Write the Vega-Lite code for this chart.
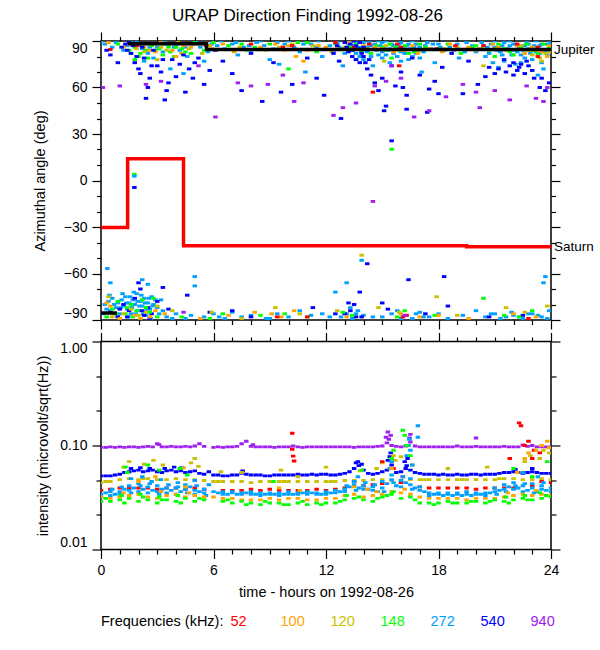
{
  "$schema": "https://vega.github.io/schema/vega-lite/v6.json",
  "description": "URAP direction finding, azimuth and intensity by frequency",
  "padding": {"left": 31, "top": 6, "right": 0, "bottom": 0},
  "title": {"text": "URAP Direction Finding  1992-08-26", "anchor": "middle", "dx": -6, "fontSize": 17, "fontWeight": "normal", "color": "black", "offset": 6},
  "datasets": {
    "az": [
      {"t":0.2,"v":88,"f":"272"},{"t":0.6,"v":86,"f":"272"},{"t":1.2,"v":84,"f":"272"},{"t":1.6,"v":89,"f":"272"},{"t":2.0,"v":87,"f":"272"},{"t":2.2,"v":85,"f":"272"},{"t":2.5,"v":82,"f":"272"},{"t":2.8,"v":79,"f":"272"},{"t":3.0,"v":86,"f":"272"},{"t":3.3,"v":83,"f":"272"},{"t":3.6,"v":88,"f":"272"},{"t":3.9,"v":86,"f":"272"},{"t":4.2,"v":84,"f":"272"},{"t":4.6,"v":80,"f":"272"},{"t":4.9,"v":88,"f":"272"},{"t":5.3,"v":86,"f":"272"},{"t":5.7,"v":83,"f":"272"},{"t":6.2,"v":87,"f":"272"},{"t":6.6,"v":85,"f":"272"},{"t":7.0,"v":88,"f":"272"},{"t":7.3,"v":81,"f":"272"},{"t":7.6,"v":86,"f":"272"},{"t":8.0,"v":84,"f":"272"},{"t":8.3,"v":89,"f":"272"},{"t":8.7,"v":87,"f":"272"},{"t":9.2,"v":85,"f":"272"},{"t":9.5,"v":75,"f":"272"},{"t":9.8,"v":88,"f":"272"},{"t":10.3,"v":86,"f":"272"},{"t":10.6,"v":83,"f":"272"},{"t":10.9,"v":70,"f":"272"},{"t":11.2,"v":88,"f":"272"},{"t":11.5,"v":86,"f":"272"},{"t":11.8,"v":80,"f":"272"},{"t":12.2,"v":87,"f":"272"},{"t":12.6,"v":89,"f":"272"},{"t":12.8,"v":85,"f":"272"},{"t":13.0,"v":82,"f":"272"},{"t":13.2,"v":88,"f":"272"},{"t":13.4,"v":84,"f":"272"},{"t":13.6,"v":78,"f":"272"},{"t":13.8,"v":86,"f":"272"},{"t":14.0,"v":89,"f":"272"},{"t":14.2,"v":83,"f":"272"},{"t":14.4,"v":87,"f":"272"},{"t":14.6,"v":85,"f":"272"},{"t":14.8,"v":81,"f":"272"},{"t":15.0,"v":89,"f":"272"},{"t":15.1,"v":86,"f":"272"},{"t":15.3,"v":84,"f":"272"},{"t":15.5,"v":88,"f":"272"},{"t":15.6,"v":82,"f":"272"},{"t":15.8,"v":86,"f":"272"},{"t":16.0,"v":89,"f":"272"},{"t":16.1,"v":84,"f":"272"},{"t":16.3,"v":87,"f":"272"},{"t":16.5,"v":85,"f":"272"},{"t":16.6,"v":80,"f":"272"},{"t":16.8,"v":88,"f":"272"},{"t":17.0,"v":86,"f":"272"},{"t":17.2,"v":83,"f":"272"},{"t":17.4,"v":89,"f":"272"},{"t":17.6,"v":85,"f":"272"},{"t":17.8,"v":76,"f":"272"},{"t":18.0,"v":88,"f":"272"},{"t":18.3,"v":84,"f":"272"},{"t":18.6,"v":86,"f":"272"},{"t":19.0,"v":88,"f":"272"},{"t":19.4,"v":83,"f":"272"},{"t":19.8,"v":87,"f":"272"},{"t":20.2,"v":85,"f":"272"},{"t":20.5,"v":80,"f":"272"},{"t":20.8,"v":88,"f":"272"},{"t":21.0,"v":86,"f":"272"},{"t":21.3,"v":83,"f":"272"},{"t":21.5,"v":89,"f":"272"},{"t":21.7,"v":85,"f":"272"},{"t":21.9,"v":81,"f":"272"},{"t":22.1,"v":88,"f":"272"},{"t":22.3,"v":86,"f":"272"},{"t":22.5,"v":84,"f":"272"},{"t":22.7,"v":89,"f":"272"},{"t":22.9,"v":82,"f":"272"},{"t":23.1,"v":87,"f":"272"},{"t":23.3,"v":85,"f":"272"},{"t":23.5,"v":88,"f":"272"},{"t":23.7,"v":83,"f":"272"},{"t":23.9,"v":86,"f":"272"},{"t":22.4,"v":76,"f":"272"},{"t":23.0,"v":78,"f":"272"},{"t":23.6,"v":72,"f":"272"},{"t":15.4,"v":76,"f":"272"},{"t":16.4,"v":78,"f":"272"},{"t":14.5,"v":74,"f":"272"},{"t":13.5,"v":87,"f":"272"},{"t":13.7,"v":90,"f":"272"},{"t":13.9,"v":83,"f":"272"},{"t":14.1,"v":86,"f":"272"},{"t":14.3,"v":89,"f":"272"},{"t":14.7,"v":84,"f":"272"},{"t":14.9,"v":87,"f":"272"},{"t":15.2,"v":90,"f":"272"},{"t":15.7,"v":85,"f":"272"},{"t":15.9,"v":88,"f":"272"},{"t":16.2,"v":82,"f":"272"},{"t":16.7,"v":86,"f":"272"},{"t":16.9,"v":84,"f":"272"},{"t":20.3,"v":89,"f":"272"},{"t":20.6,"v":86,"f":"272"},{"t":21.1,"v":84,"f":"272"},{"t":21.4,"v":87,"f":"272"},{"t":21.8,"v":90,"f":"272"},{"t":22.0,"v":84,"f":"272"},{"t":22.6,"v":87,"f":"272"},{"t":22.8,"v":85,"f":"272"},{"t":23.2,"v":90,"f":"272"},{"t":23.4,"v":82,"f":"272"},{"t":23.8,"v":88,"f":"272"},{"t":24.0,"v":85,"f":"272"},{"t":4.4,"v":69,"f":"272"},{"t":5.5,"v":77,"f":"272"},{"t":12.9,"v":74,"f":"272"},{"t":17.1,"v":70,"f":"272"},{"t":19.1,"v":79,"f":"272"},{"t":21.2,"v":73,"f":"272"},{"t":23.3,"v":68,"f":"272"},{"t":2.3,"v":77,"f":"272"},{"t":9.0,"v":78,"f":"272"},{"t":3.7,"v":72,"f":"272"},
      {"t":0.0,"v":90,"f":"272"},{"t":0.8,"v":89,"f":"272"},{"t":1.4,"v":87,"f":"272"},{"t":1.9,"v":90,"f":"272"},{"t":2.6,"v":86,"f":"272"},{"t":3.4,"v":90,"f":"272"},{"t":4.0,"v":88,"f":"272"},{"t":4.5,"v":86,"f":"272"},{"t":5.1,"v":90,"f":"272"},{"t":5.9,"v":88,"f":"272"},{"t":6.4,"v":90,"f":"272"},{"t":7.2,"v":89,"f":"272"},{"t":7.9,"v":87,"f":"272"},{"t":8.5,"v":90,"f":"272"},{"t":9.4,"v":89,"f":"272"},{"t":10.0,"v":90,"f":"272"},{"t":10.8,"v":88,"f":"272"},{"t":11.6,"v":90,"f":"272"},{"t":12.4,"v":84,"f":"272"},{"t":12.7,"v":86,"f":"272"},{"t":13.1,"v":85,"f":"272"},{"t":13.3,"v":90,"f":"272"},{"t":13.6,"v":82,"f":"272"},{"t":13.8,"v":80,"f":"272"},{"t":14.0,"v":84,"f":"272"},{"t":14.2,"v":86,"f":"272"},{"t":14.4,"v":80,"f":"272"},{"t":14.6,"v":88,"f":"272"},{"t":14.8,"v":90,"f":"272"},{"t":15.0,"v":83,"f":"272"},{"t":15.2,"v":81,"f":"272"},{"t":15.4,"v":85,"f":"272"},{"t":15.6,"v":87,"f":"272"},{"t":15.8,"v":80,"f":"272"},{"t":16.0,"v":83,"f":"272"},{"t":16.2,"v":85,"f":"272"},{"t":16.4,"v":88,"f":"272"},{"t":16.6,"v":90,"f":"272"},{"t":16.8,"v":82,"f":"272"},{"t":17.0,"v":79,"f":"272"},{"t":17.3,"v":87,"f":"272"},{"t":17.7,"v":88,"f":"272"},{"t":18.1,"v":86,"f":"272"},{"t":18.8,"v":84,"f":"272"},{"t":19.5,"v":89,"f":"272"},{"t":20.0,"v":83,"f":"272"},{"t":20.4,"v":87,"f":"272"},{"t":20.7,"v":82,"f":"272"},{"t":21.0,"v":90,"f":"272"},{"t":21.2,"v":86,"f":"272"},{"t":21.4,"v":81,"f":"272"},{"t":21.6,"v":84,"f":"272"},{"t":21.8,"v":87,"f":"272"},{"t":22.0,"v":88,"f":"272"},{"t":22.2,"v":83,"f":"272"},{"t":22.4,"v":81,"f":"272"},{"t":22.6,"v":79,"f":"272"},{"t":22.8,"v":88,"f":"272"},{"t":23.0,"v":86,"f":"272"},{"t":23.2,"v":83,"f":"272"},{"t":23.4,"v":87,"f":"272"},{"t":23.6,"v":84,"f":"272"},{"t":23.8,"v":81,"f":"272"},{"t":24.0,"v":89,"f":"272"},{"t":21.5,"v":77,"f":"272"},{"t":22.1,"v":75,"f":"272"},{"t":23.5,"v":76,"f":"272"},{"t":20.9,"v":76,"f":"272"},{"t":14.0,"v":78,"f":"272"},{"t":15.0,"v":79,"f":"272"},{"t":16.0,"v":77,"f":"272"},
      {"t":1.5,"v":84,"f":"148"},{"t":1.8,"v":86,"f":"148"},{"t":2.1,"v":82,"f":"148"},{"t":2.4,"v":84,"f":"148"},{"t":2.7,"v":87,"f":"148"},{"t":3.1,"v":85,"f":"148"},{"t":3.4,"v":88,"f":"148"},{"t":3.7,"v":83,"f":"148"},{"t":4.0,"v":86,"f":"148"},{"t":4.3,"v":85,"f":"148"},{"t":5.0,"v":89,"f":"148"},{"t":5.5,"v":84,"f":"148"},{"t":6.8,"v":87,"f":"148"},{"t":7.8,"v":84,"f":"148"},{"t":9.0,"v":88,"f":"148"},{"t":10.5,"v":89,"f":"148"},{"t":11.5,"v":83,"f":"148"},{"t":12.5,"v":88,"f":"148"},{"t":13.3,"v":86,"f":"148"},{"t":13.9,"v":84,"f":"148"},{"t":14.4,"v":82,"f":"148"},{"t":15.0,"v":86,"f":"148"},{"t":15.4,"v":88,"f":"148"},{"t":15.9,"v":84,"f":"148"},{"t":16.2,"v":87,"f":"148"},{"t":16.7,"v":83,"f":"148"},{"t":17.3,"v":86,"f":"148"},{"t":18.5,"v":88,"f":"148"},{"t":19.2,"v":82,"f":"148"},{"t":20.0,"v":87,"f":"148"},{"t":20.7,"v":84,"f":"148"},{"t":21.2,"v":88,"f":"148"},{"t":21.8,"v":83,"f":"148"},{"t":22.4,"v":86,"f":"148"},{"t":23.0,"v":84,"f":"148"},{"t":23.6,"v":88,"f":"148"},{"t":15.5,"v":79,"f":"148"},{"t":2.0,"v":80,"f":"148"},{"t":3.3,"v":81,"f":"148"},{"t":4.8,"v":82,"f":"148"},{"t":10.0,"v":72,"f":"148"},{"t":21.0,"v":80,"f":"148"},{"t":8.2,"v":86,"f":"148"},
      {"t":0.9,"v":88,"f":"148"},{"t":1.6,"v":82,"f":"148"},{"t":2.2,"v":88,"f":"148"},{"t":2.9,"v":84,"f":"148"},{"t":3.6,"v":86,"f":"148"},{"t":4.5,"v":83,"f":"148"},{"t":6.0,"v":89,"f":"148"},{"t":7.5,"v":88,"f":"148"},{"t":9.7,"v":86,"f":"148"},{"t":11.0,"v":89,"f":"148"},{"t":12.0,"v":85,"f":"148"},{"t":13.6,"v":88,"f":"148"},{"t":14.1,"v":85,"f":"148"},{"t":14.7,"v":87,"f":"148"},{"t":15.2,"v":84,"f":"148"},{"t":15.7,"v":86,"f":"148"},{"t":16.4,"v":82,"f":"148"},{"t":17.0,"v":88,"f":"148"},{"t":18.0,"v":85,"f":"148"},{"t":19.8,"v":86,"f":"148"},{"t":20.3,"v":85,"f":"148"},{"t":21.5,"v":85,"f":"148"},{"t":22.0,"v":81,"f":"148"},{"t":22.7,"v":88,"f":"148"},{"t":23.3,"v":82,"f":"148"},{"t":23.9,"v":86,"f":"148"},{"t":2.5,"v":79,"f":"148"},{"t":3.9,"v":80,"f":"148"},{"t":1.8,"v":78,"f":"148"},
      {"t":0.4,"v":89,"f":"100"},{"t":1.7,"v":88,"f":"100"},{"t":2.3,"v":86,"f":"100"},{"t":3.2,"v":89,"f":"100"},{"t":3.8,"v":84,"f":"100"},{"t":4.4,"v":87,"f":"100"},{"t":5.2,"v":88,"f":"100"},{"t":5.9,"v":85,"f":"100"},{"t":7.1,"v":83,"f":"100"},{"t":8.5,"v":86,"f":"100"},{"t":9.3,"v":88,"f":"100"},{"t":10.0,"v":87,"f":"100"},{"t":10.4,"v":80,"f":"100"},{"t":11.0,"v":84,"f":"100"},{"t":12.0,"v":86,"f":"100"},{"t":13.2,"v":89,"f":"100"},{"t":14.6,"v":86,"f":"100"},{"t":15.6,"v":83,"f":"100"},{"t":16.6,"v":87,"f":"100"},{"t":17.5,"v":85,"f":"100"},{"t":18.2,"v":83,"f":"100"},{"t":19.6,"v":86,"f":"100"},{"t":20.9,"v":88,"f":"100"},{"t":21.6,"v":84,"f":"100"},{"t":22.2,"v":87,"f":"100"},{"t":23.2,"v":84,"f":"100"},{"t":23.8,"v":80,"f":"100"},{"t":23.9,"v":87,"f":"100"},{"t":16.9,"v":82,"f":"100"},{"t":4.0,"v":80,"f":"100"},{"t":2.9,"v":83,"f":"100"},{"t":10.8,"v":77,"f":"100"},
      {"t":1.2,"v":86,"f":"100"},{"t":2.6,"v":84,"f":"100"},{"t":4.8,"v":86,"f":"100"},{"t":6.5,"v":88,"f":"100"},{"t":9.8,"v":84,"f":"100"},{"t":11.6,"v":87,"f":"100"},{"t":12.6,"v":85,"f":"100"},{"t":14.0,"v":87,"f":"100"},{"t":15.0,"v":85,"f":"100"},{"t":16.2,"v":84,"f":"100"},{"t":18.6,"v":88,"f":"100"},{"t":20.2,"v":85,"f":"100"},{"t":21.2,"v":86,"f":"100"},{"t":22.6,"v":82,"f":"100"},{"t":23.0,"v":86,"f":"100"},{"t":23.5,"v":83,"f":"100"},{"t":24.0,"v":84,"f":"100"},
      {"t":1.9,"v":85,"f":"120"},{"t":2.6,"v":88,"f":"120"},{"t":3.5,"v":84,"f":"120"},{"t":4.1,"v":89,"f":"120"},{"t":4.7,"v":85,"f":"120"},{"t":5.4,"v":82,"f":"120"},{"t":7.4,"v":86,"f":"120"},{"t":8.8,"v":84,"f":"120"},{"t":10.2,"v":88,"f":"120"},{"t":12.3,"v":83,"f":"120"},{"t":13.6,"v":85,"f":"120"},{"t":15.2,"v":87,"f":"120"},{"t":17.0,"v":84,"f":"120"},{"t":19.0,"v":86,"f":"120"},{"t":21.0,"v":85,"f":"120"},{"t":22.8,"v":84,"f":"120"},{"t":23.4,"v":79,"f":"120"},{"t":23.7,"v":82,"f":"120"},{"t":20.4,"v":74,"f":"120"},{"t":15.1,"v":77,"f":"120"},{"t":3.0,"v":78,"f":"120"},{"t":11.3,"v":87,"f":"120"},
      {"t":1.4,"v":88,"f":"120"},{"t":2.3,"v":83,"f":"120"},{"t":3.2,"v":86,"f":"120"},{"t":4.3,"v":82,"f":"120"},{"t":5.8,"v":87,"f":"120"},{"t":9.5,"v":86,"f":"120"},{"t":13.0,"v":86,"f":"120"},{"t":14.2,"v":85,"f":"120"},{"t":16.0,"v":84,"f":"120"},{"t":18.3,"v":85,"f":"120"},{"t":20.0,"v":84,"f":"120"},{"t":22.4,"v":87,"f":"120"},{"t":23.0,"v":81,"f":"120"},{"t":23.9,"v":83,"f":"120"},{"t":23.5,"v":77,"f":"120"},
      {"t":0.5,"v":84.5,"f":"52"},{"t":9.7,"v":86,"f":"52"},{"t":10.2,"v":87,"f":"52"},{"t":13.5,"v":86,"f":"52"},{"t":14.3,"v":88,"f":"52"},{"t":17.9,"v":85,"f":"52"},{"t":22.2,"v":88,"f":"52"},{"t":23.3,"v":86,"f":"52"},{"t":14.5,"v":57,"f":"52"},{"t":15.9,"v":74,"f":"52"},{"t":18.9,"v":87,"f":"52"},{"t":23.3,"v":80,"f":"52"},{"t":16.0,"v":86,"f":"52"},{"t":5.6,"v":87,"f":"52"},{"t":1.9,"v":87,"f":"52"},{"t":8.0,"v":88,"f":"52"},{"t":12.5,"v":89,"f":"52"},{"t":15.8,"v":88,"f":"52"},{"t":20.4,"v":87,"f":"52"},
      {"t":0.3,"v":84,"f":"540"},{"t":0.5,"v":81,"f":"540"},{"t":0.9,"v":76,"f":"540"},{"t":1.1,"v":86,"f":"540"},{"t":1.3,"v":88,"f":"540"},{"t":1.5,"v":89,"f":"540"},{"t":1.7,"v":87,"f":"540"},{"t":1.8,"v":76,"f":"540"},{"t":2.0,"v":72,"f":"540"},{"t":2.1,"v":69,"f":"540"},{"t":2.3,"v":79,"f":"540"},{"t":2.4,"v":53,"f":"540"},{"t":2.5,"v":60,"f":"540"},{"t":2.6,"v":66,"f":"540"},{"t":2.8,"v":84,"f":"540"},{"t":3.0,"v":74,"f":"540"},{"t":3.2,"v":70,"f":"540"},{"t":3.4,"v":52,"f":"540"},{"t":3.5,"v":58,"f":"540"},{"t":3.6,"v":63,"f":"540"},{"t":3.8,"v":78,"f":"540"},{"t":4.0,"v":67,"f":"540"},{"t":4.2,"v":75,"f":"540"},{"t":4.5,"v":57,"f":"540"},{"t":4.7,"v":72,"f":"540"},{"t":4.9,"v":66,"f":"540"},{"t":5.2,"v":79,"f":"540"},{"t":5.5,"v":62,"f":"540"},{"t":5.8,"v":71,"f":"540"},{"t":6.1,"v":84,"f":"540"},{"t":6.5,"v":77,"f":"540"},{"t":7.0,"v":69,"f":"540"},{"t":7.5,"v":58,"f":"540"},{"t":8.0,"v":82,"f":"540"},{"t":8.6,"v":51,"f":"540"},{"t":9.2,"v":76,"f":"540"},{"t":9.6,"v":57,"f":"540"},{"t":10.2,"v":62,"f":"540"},{"t":11.0,"v":79,"f":"540"},{"t":11.5,"v":66,"f":"540"},{"t":11.9,"v":55,"f":"540"},{"t":12.4,"v":82,"f":"540"},{"t":12.6,"v":87,"f":"540"},{"t":13.0,"v":89,"f":"540"},{"t":13.1,"v":86,"f":"540"},{"t":13.3,"v":88,"f":"540"},{"t":13.4,"v":84,"f":"540"},{"t":13.5,"v":90,"f":"540"},{"t":13.6,"v":87,"f":"540"},{"t":13.7,"v":85,"f":"540"},{"t":13.8,"v":89,"f":"540"},{"t":13.9,"v":82,"f":"540"},{"t":14.0,"v":86,"f":"540"},{"t":14.1,"v":76,"f":"540"},{"t":14.2,"v":72,"f":"540"},{"t":14.4,"v":68,"f":"540"},{"t":14.6,"v":63,"f":"540"},{"t":14.8,"v":58,"f":"540"},{"t":15.0,"v":66,"f":"540"},{"t":15.2,"v":48,"f":"540"},{"t":15.5,"v":74,"f":"540"},{"t":15.7,"v":61,"f":"540"},{"t":16.0,"v":70,"f":"540"},{"t":16.3,"v":55,"f":"540"},{"t":16.6,"v":79,"f":"540"},{"t":17.0,"v":68,"f":"540"},{"t":17.5,"v":59,"f":"540"},{"t":17.8,"v":64,"f":"540"},{"t":18.2,"v":73,"f":"540"},{"t":18.7,"v":82,"f":"540"},{"t":19.3,"v":56,"f":"540"},{"t":19.6,"v":77,"f":"540"},{"t":20.1,"v":62,"f":"540"},{"t":20.5,"v":67,"f":"540"},{"t":21.2,"v":72,"f":"540"},{"t":21.5,"v":78,"f":"540"},{"t":21.8,"v":74,"f":"540"},{"t":22.0,"v":76,"f":"540"},{"t":22.2,"v":71,"f":"540"},{"t":22.4,"v":75,"f":"540"},{"t":22.6,"v":69,"f":"540"},{"t":22.8,"v":74,"f":"540"},{"t":23.1,"v":66,"f":"540"},{"t":23.4,"v":60,"f":"540"},{"t":23.7,"v":58,"f":"540"},{"t":23.9,"v":63,"f":"540"},{"t":12.8,"v":40,"f":"540"},{"t":15.1,"v":45,"f":"540"},{"t":16.3,"v":46,"f":"540"},{"t":17.4,"v":44,"f":"540"},
      {"t":1.4,"v":84,"f":"540"},{"t":1.6,"v":82,"f":"540"},{"t":1.9,"v":80,"f":"540"},{"t":2.2,"v":86,"f":"540"},{"t":2.7,"v":74,"f":"540"},{"t":3.3,"v":78,"f":"540"},{"t":4.4,"v":81,"f":"540"},{"t":5.0,"v":76,"f":"540"},{"t":13.2,"v":83,"f":"540"},{"t":13.4,"v":80,"f":"540"},{"t":13.6,"v":78,"f":"540"},{"t":13.8,"v":76,"f":"540"},{"t":14.0,"v":80,"f":"540"},{"t":14.3,"v":78,"f":"540"},{"t":21.6,"v":70,"f":"540"},{"t":22.0,"v":68,"f":"540"},{"t":22.3,"v":73,"f":"540"},{"t":22.7,"v":77,"f":"540"},{"t":23.0,"v":71,"f":"540"},{"t":12.7,"v":77,"f":"540"},{"t":16.1,"v":60,"f":"540"},{"t":18.0,"v":56,"f":"540"},{"t":20.7,"v":73,"f":"540"},{"t":21.0,"v":69,"f":"540"},{"t":23.5,"v":66,"f":"540"},
      {"t":0.1,"v":60,"f":"940"},{"t":1.0,"v":61,"f":"940"},{"t":2.4,"v":62,"f":"940"},{"t":3.2,"v":64,"f":"940"},{"t":5.2,"v":74,"f":"940"},{"t":6.1,"v":41,"f":"940"},{"t":7.3,"v":63,"f":"940"},{"t":8.0,"v":61,"f":"940"},{"t":8.9,"v":62,"f":"940"},{"t":9.7,"v":68,"f":"940"},{"t":10.3,"v":51,"f":"940"},{"t":10.8,"v":63,"f":"940"},{"t":12.4,"v":42,"f":"940"},{"t":12.9,"v":47,"f":"940"},{"t":13.6,"v":50,"f":"940"},{"t":14.6,"v":61,"f":"940"},{"t":15.2,"v":64,"f":"940"},{"t":15.5,"v":74,"f":"940"},{"t":16.0,"v":66,"f":"940"},{"t":16.7,"v":41,"f":"940"},{"t":17.5,"v":45,"f":"940"},{"t":18.4,"v":54,"f":"940"},{"t":19.3,"v":62,"f":"940"},{"t":20.0,"v":57,"f":"940"},{"t":20.2,"v":47,"f":"940"},{"t":21.0,"v":58,"f":"940"},{"t":21.8,"v":52,"f":"940"},{"t":22.7,"v":61,"f":"940"},{"t":23.2,"v":53,"f":"940"},{"t":23.6,"v":51,"f":"940"},{"t":23.8,"v":60,"f":"940"},
      {"t":1.78,"v":4,"f":"148"},{"t":1.78,"v":2.8,"f":"272"},{"t":1.78,"v":-4.5,"f":"540"},{"t":15.5,"v":25.6,"f":"540"},{"t":15.5,"v":20.2,"f":"148"},{"t":14.5,"v":-13.5,"f":"940"},{"t":13.9,"v":-48.2,"f":"120"},{"t":13.9,"v":-51.5,"f":"272"},{"t":14.2,"v":-53.7,"f":"540"},{"t":0.34,"v":-56.8,"f":"272"},
      {"t":0.2,"v":-80,"f":"272"},{"t":0.4,"v":-78,"f":"272"},{"t":0.5,"v":-84,"f":"272"},{"t":0.6,"v":-76,"f":"272"},{"t":0.8,"v":-82,"f":"272"},{"t":0.9,"v":-79,"f":"272"},{"t":1.0,"v":-86,"f":"272"},{"t":1.1,"v":-77,"f":"272"},{"t":1.2,"v":-81,"f":"272"},{"t":1.3,"v":-75,"f":"272"},{"t":1.4,"v":-83,"f":"272"},{"t":1.5,"v":-79,"f":"272"},{"t":1.6,"v":-86,"f":"272"},{"t":1.7,"v":-77,"f":"272"},{"t":1.8,"v":-80,"f":"272"},{"t":1.9,"v":-73,"f":"272"},{"t":2.0,"v":-84,"f":"272"},{"t":2.1,"v":-78,"f":"272"},{"t":2.2,"v":-81,"f":"272"},{"t":2.3,"v":-76,"f":"272"},{"t":2.4,"v":-87,"f":"272"},{"t":2.5,"v":-79,"f":"272"},{"t":2.6,"v":-83,"f":"272"},{"t":2.7,"v":-75,"f":"272"},{"t":2.8,"v":-80,"f":"272"},{"t":3.0,"v":-82,"f":"272"},{"t":3.2,"v":-77,"f":"272"},{"t":0.5,"v":-66,"f":"272"},{"t":2.2,"v":-64,"f":"272"},{"t":2.5,"v":-67,"f":"272"},{"t":3.5,"v":-88,"f":"272"},{"t":4.0,"v":-86,"f":"272"},{"t":4.5,"v":-89,"f":"272"},{"t":5.0,"v":-62,"f":"272"},{"t":5.0,"v":-68,"f":"272"},{"t":5.5,"v":-88,"f":"272"},{"t":6.0,"v":-86,"f":"272"},{"t":6.6,"v":-89,"f":"272"},{"t":7.0,"v":-85,"f":"272"},{"t":7.5,"v":-88,"f":"272"},{"t":8.0,"v":-87,"f":"272"},{"t":8.8,"v":-89,"f":"272"},{"t":9.4,"v":-86,"f":"272"},{"t":10.0,"v":-88,"f":"272"},{"t":10.6,"v":-84,"f":"272"},{"t":11.2,"v":-87,"f":"272"},{"t":11.8,"v":-86,"f":"272"},{"t":12.5,"v":-72,"f":"272"},{"t":12.8,"v":-88,"f":"272"},{"t":13.1,"v":-66,"f":"272"},{"t":13.1,"v":-86,"f":"272"},{"t":13.4,"v":-89,"f":"272"},{"t":13.7,"v":-84,"f":"272"},{"t":14.0,"v":-87,"f":"272"},{"t":14.5,"v":-88,"f":"272"},{"t":15.5,"v":-86,"f":"272"},{"t":15.8,"v":-84,"f":"272"},{"t":16.2,"v":-87,"f":"272"},{"t":16.6,"v":-89,"f":"272"},{"t":17.0,"v":-85,"f":"272"},{"t":17.5,"v":-88,"f":"272"},{"t":18.0,"v":-86,"f":"272"},{"t":18.5,"v":-89,"f":"272"},{"t":19.3,"v":-87,"f":"272"},{"t":20.0,"v":-84,"f":"272"},{"t":20.8,"v":-86,"f":"272"},{"t":21.3,"v":-89,"f":"272"},{"t":21.6,"v":-88,"f":"272"},{"t":22.0,"v":-87,"f":"272"},{"t":22.5,"v":-89,"f":"272"},{"t":23.0,"v":-86,"f":"272"},{"t":23.5,"v":-88,"f":"272"},{"t":23.8,"v":-89,"f":"272"},{"t":23.7,"v":-62,"f":"272"},{"t":23.6,"v":-66,"f":"272"},{"t":23.9,"v":-84,"f":"272"},
      {"t":0.3,"v":-83,"f":"272"},{"t":0.45,"v":-74,"f":"272"},{"t":0.7,"v":-80,"f":"272"},{"t":0.85,"v":-87,"f":"272"},{"t":1.05,"v":-82,"f":"272"},{"t":1.15,"v":-73,"f":"272"},{"t":1.35,"v":-79,"f":"272"},{"t":1.45,"v":-88,"f":"272"},{"t":1.55,"v":-75,"f":"272"},{"t":1.65,"v":-82,"f":"272"},{"t":1.75,"v":-72,"f":"272"},{"t":1.85,"v":-86,"f":"272"},{"t":1.95,"v":-78,"f":"272"},{"t":2.05,"v":-81,"f":"272"},{"t":2.15,"v":-74,"f":"272"},{"t":2.25,"v":-86,"f":"272"},{"t":2.35,"v":-79,"f":"272"},{"t":2.45,"v":-83,"f":"272"},{"t":2.55,"v":-76,"f":"272"},{"t":2.65,"v":-89,"f":"272"},{"t":2.75,"v":-81,"f":"272"},{"t":2.9,"v":-77,"f":"272"},{"t":3.1,"v":-86,"f":"272"},{"t":3.3,"v":-84,"f":"272"},{"t":0.1,"v":-86,"f":"272"},{"t":3.8,"v":-89,"f":"272"},{"t":4.8,"v":-87,"f":"272"},{"t":6.3,"v":-88,"f":"272"},{"t":9.0,"v":-89,"f":"272"},{"t":12.2,"v":-88,"f":"272"},{"t":13.3,"v":-82,"f":"272"},{"t":13.6,"v":-86,"f":"272"},{"t":15.0,"v":-88,"f":"272"},{"t":16.0,"v":-89,"f":"272"},{"t":16.8,"v":-86,"f":"272"},{"t":17.2,"v":-88,"f":"272"},{"t":20.5,"v":-88,"f":"272"},{"t":21.0,"v":-86,"f":"272"},{"t":21.9,"v":-85,"f":"272"},{"t":22.3,"v":-88,"f":"272"},{"t":22.8,"v":-86,"f":"272"},{"t":23.3,"v":-87,"f":"272"},
      {"t":0.5,"v":-85,"f":"540"},{"t":0.9,"v":-88,"f":"540"},{"t":1.2,"v":-80,"f":"540"},{"t":1.5,"v":-84,"f":"540"},{"t":2.0,"v":-66,"f":"540"},{"t":2.1,"v":-70,"f":"540"},{"t":2.3,"v":-87,"f":"540"},{"t":2.5,"v":-82,"f":"540"},{"t":2.7,"v":-86,"f":"540"},{"t":3.3,"v":-69,"f":"540"},{"t":3.6,"v":-83,"f":"540"},{"t":4.6,"v":-74,"f":"540"},{"t":5.8,"v":-85,"f":"540"},{"t":7.0,"v":-84,"f":"540"},{"t":8.0,"v":-88,"f":"540"},{"t":11.3,"v":-82,"f":"540"},{"t":12.5,"v":-86,"f":"540"},{"t":13.2,"v":-79,"f":"540"},{"t":13.3,"v":-84,"f":"540"},{"t":13.5,"v":-80,"f":"540"},{"t":13.6,"v":-88,"f":"540"},{"t":13.8,"v":-72,"f":"540"},{"t":15.0,"v":-79,"f":"540"},{"t":15.3,"v":-83,"f":"540"},{"t":16.4,"v":-64,"f":"540"},{"t":17.3,"v":-86,"f":"540"},{"t":18.3,"v":-62,"f":"540"},{"t":18.5,"v":-81,"f":"540"},{"t":20.7,"v":-88,"f":"540"},{"t":22.5,"v":-87,"f":"540"},{"t":1.0,"v":-83,"f":"540"},{"t":1.4,"v":-88,"f":"540"},{"t":1.8,"v":-76,"f":"540"},{"t":2.2,"v":-84,"f":"540"},{"t":2.6,"v":-89,"f":"540"},{"t":3.0,"v":-78,"f":"540"},{"t":13.0,"v":-86,"f":"540"},{"t":13.9,"v":-88,"f":"540"},
      {"t":0.3,"v":-88,"f":"148"},{"t":0.6,"v":-83,"f":"148"},{"t":0.9,"v":-78,"f":"148"},{"t":1.3,"v":-86,"f":"148"},{"t":1.6,"v":-80,"f":"148"},{"t":1.9,"v":-84,"f":"148"},{"t":2.2,"v":-77,"f":"148"},{"t":2.6,"v":-85,"f":"148"},{"t":3.0,"v":-88,"f":"148"},{"t":4.3,"v":-88,"f":"148"},{"t":5.8,"v":-89,"f":"148"},{"t":6.5,"v":-86,"f":"148"},{"t":8.5,"v":-87,"f":"148"},{"t":9.8,"v":-86,"f":"148"},{"t":11.0,"v":-88,"f":"148"},{"t":12.9,"v":-85,"f":"148"},{"t":13.4,"v":-87,"f":"148"},{"t":15.8,"v":-88,"f":"148"},{"t":16.2,"v":-84,"f":"148"},{"t":17.8,"v":-87,"f":"148"},{"t":20.4,"v":-76,"f":"148"},{"t":21.5,"v":-87,"f":"148"},{"t":22.3,"v":-88,"f":"148"},{"t":23.0,"v":-84,"f":"148"},{"t":0.8,"v":-86,"f":"148"},{"t":1.4,"v":-82,"f":"148"},{"t":1.7,"v":-88,"f":"148"},{"t":2.4,"v":-82,"f":"148"},{"t":2.8,"v":-76,"f":"148"},
      {"t":0.3,"v":-79,"f":"100"},{"t":0.5,"v":-81,"f":"100"},{"t":1.0,"v":-89,"f":"100"},{"t":1.8,"v":-87,"f":"100"},{"t":2.6,"v":-88,"f":"100"},{"t":3.4,"v":-86,"f":"100"},{"t":5.3,"v":-89,"f":"100"},{"t":6.8,"v":-87,"f":"100"},{"t":8.2,"v":-85,"f":"100"},{"t":9.1,"v":-86,"f":"100"},{"t":9.6,"v":-88,"f":"100"},{"t":10.3,"v":-84,"f":"100"},{"t":13.1,"v":-88,"f":"100"},{"t":16.0,"v":-86,"f":"100"},{"t":17.0,"v":-88,"f":"100"},{"t":18.0,"v":-87,"f":"100"},{"t":19.6,"v":-89,"f":"100"},{"t":22.0,"v":-86,"f":"100"},{"t":23.2,"v":-88,"f":"100"},{"t":0.7,"v":-86,"f":"100"},{"t":2.1,"v":-89,"f":"100"},{"t":2.9,"v":-84,"f":"100"},
      {"t":0.4,"v":-75,"f":"120"},{"t":1.2,"v":-86,"f":"120"},{"t":2.4,"v":-85,"f":"120"},{"t":3.0,"v":-81,"f":"120"},{"t":3.8,"v":-84,"f":"120"},{"t":5.9,"v":-85,"f":"120"},{"t":7.5,"v":-89,"f":"120"},{"t":9.3,"v":-82,"f":"120"},{"t":10.6,"v":-86,"f":"120"},{"t":12.6,"v":-84,"f":"120"},{"t":14.8,"v":-82,"f":"120"},{"t":15.9,"v":-85,"f":"120"},{"t":17.9,"v":-75,"f":"120"},{"t":19.0,"v":-87,"f":"120"},{"t":21.6,"v":-82,"f":"120"},{"t":22.6,"v":-85,"f":"120"},{"t":23.8,"v":-81,"f":"120"},{"t":0.6,"v":-88,"f":"120"},{"t":1.6,"v":-83,"f":"120"},{"t":2.0,"v":-87,"f":"120"},
      {"t":9.4,"v":-88,"f":"52"},{"t":11.0,"v":-88,"f":"52"},{"t":16.1,"v":-88,"f":"52"},{"t":16.3,"v":-87,"f":"52"},{"t":22.8,"v":-89,"f":"52"},
      {"t":4.4,"v":-85,"f":"940"},{"t":16.2,"v":-87,"f":"940"}
    ],
    "jup": [
      {"t":0,"v":-85.5,"seg":"a"},{"t":0.85,"v":-85.5,"seg":"a"},
      {"t":1.45,"v":88.3,"seg":"b"},{"t":5.63,"v":84.5,"seg":"b"},{"t":24,"v":84.5,"seg":"b"}
    ],
    "sat": [
      {"t":0,"v":-30.4},{"t":1.42,"v":14.1},{"t":4.4,"v":-42.1},{"t":19.5,"v":-42.8},{"t":24,"v":-42.8}
    ],
    "lab": [
      {"t":24,"v":84.5,"name":"Jupiter"},{"t":24,"v":-42.8,"name":"Saturn"}
    ],
    "frame": [
      {"t":0,"v":0.01},{"t":24,"v":1}
    ],
    "int": [
      {"t":0,"v":0.096,"f":"940"},{"t":0.25,"v":0.096,"f":"940"},{"t":0.5,"v":0.097,"f":"940"},{"t":0.75,"v":0.096,"f":"940"},{"t":1,"v":0.097,"f":"940"},{"t":1.25,"v":0.096,"f":"940"},{"t":1.5,"v":0.097,"f":"940"},{"t":1.75,"v":0.097,"f":"940"},{"t":2,"v":0.096,"f":"940"},{"t":2.25,"v":0.097,"f":"940"},{"t":2.5,"v":0.098,"f":"940"},{"t":2.75,"v":0.097,"f":"940"},{"t":3,"v":0.104,"f":"940"},{"t":3.25,"v":0.097,"f":"940"},{"t":3.5,"v":0.097,"f":"940"},{"t":3.75,"v":0.098,"f":"940"},{"t":4,"v":0.097,"f":"940"},{"t":4.25,"v":0.097,"f":"940"},{"t":4.5,"v":0.098,"f":"940"},{"t":4.75,"v":0.097,"f":"940"},{"t":5,"v":0.099,"f":"940"},{"t":5.25,"v":0.104,"f":"940"},{"t":5.5,"v":0.098,"f":"940"},{"t":6,"v":0.096,"f":"940"},{"t":6.25,"v":0.097,"f":"940"},{"t":6.5,"v":0.096,"f":"940"},{"t":6.75,"v":0.097,"f":"940"},{"t":7,"v":0.097,"f":"940"},{"t":7.25,"v":0.098,"f":"940"},{"t":7.5,"v":0.104,"f":"940"},{"t":7.75,"v":0.11,"f":"940"},{"t":8,"v":0.098,"f":"940"},{"t":8.25,"v":0.097,"f":"940"},{"t":8.5,"v":0.097,"f":"940"},{"t":8.75,"v":0.097,"f":"940"},{"t":9,"v":0.097,"f":"940"},{"t":9.25,"v":0.096,"f":"940"},{"t":9.5,"v":0.097,"f":"940"},{"t":9.75,"v":0.097,"f":"940"},{"t":10,"v":0.097,"f":"940"},{"t":10.25,"v":0.099,"f":"940"},{"t":10.5,"v":0.097,"f":"940"},{"t":10.75,"v":0.096,"f":"940"},{"t":11,"v":0.097,"f":"940"},{"t":11.25,"v":0.097,"f":"940"},{"t":11.5,"v":0.097,"f":"940"},{"t":11.75,"v":0.097,"f":"940"},{"t":12,"v":0.097,"f":"940"},{"t":12.25,"v":0.097,"f":"940"},{"t":12.5,"v":0.097,"f":"940"},{"t":12.75,"v":0.097,"f":"940"},{"t":13,"v":0.097,"f":"940"},{"t":13.25,"v":0.097,"f":"940"},{"t":13.5,"v":0.096,"f":"940"},{"t":13.75,"v":0.097,"f":"940"},{"t":14,"v":0.097,"f":"940"},{"t":14.25,"v":0.097,"f":"940"},{"t":14.5,"v":0.097,"f":"940"},{"t":14.75,"v":0.098,"f":"940"},{"t":15,"v":0.099,"f":"940"},{"t":15.25,"v":0.106,"f":"940"},{"t":15.5,"v":0.1,"f":"940"},{"t":15.75,"v":0.098,"f":"940"},{"t":16,"v":0.097,"f":"940"},{"t":16.25,"v":0.099,"f":"940"},{"t":16.5,"v":0.108,"f":"940"},{"t":16.75,"v":0.099,"f":"940"},{"t":17,"v":0.097,"f":"940"},{"t":17.25,"v":0.097,"f":"940"},{"t":17.5,"v":0.097,"f":"940"},{"t":17.75,"v":0.097,"f":"940"},{"t":18,"v":0.097,"f":"940"},{"t":18.25,"v":0.097,"f":"940"},{"t":18.5,"v":0.097,"f":"940"},{"t":18.75,"v":0.097,"f":"940"},{"t":19,"v":0.099,"f":"940"},{"t":19.25,"v":0.097,"f":"940"},{"t":19.5,"v":0.097,"f":"940"},{"t":19.75,"v":0.097,"f":"940"},{"t":20,"v":0.098,"f":"940"},{"t":20.25,"v":0.097,"f":"940"},{"t":20.5,"v":0.097,"f":"940"},{"t":20.75,"v":0.097,"f":"940"},{"t":21,"v":0.097,"f":"940"},{"t":21.25,"v":0.097,"f":"940"},{"t":21.5,"v":0.098,"f":"940"},{"t":21.75,"v":0.097,"f":"940"},{"t":22,"v":0.097,"f":"940"},{"t":22.25,"v":0.097,"f":"940"},{"t":22.5,"v":0.101,"f":"940"},{"t":22.75,"v":0.098,"f":"940"},{"t":23,"v":0.1,"f":"940"},{"t":23.25,"v":0.097,"f":"940"},{"t":23.5,"v":0.097,"f":"940"},{"t":23.75,"v":0.097,"f":"940"},{"t":24,"v":0.097,"f":"940"},
      {"t":15.2,"v":0.12,"f":"940"},{"t":15.3,"v":0.135,"f":"940"},{"t":15.35,"v":0.115,"f":"940"},{"t":15.45,"v":0.125,"f":"940"},{"t":16.45,"v":0.118,"f":"940"},{"t":16.5,"v":0.128,"f":"940"},{"t":20,"v":0.118,"f":"940"},{"t":3.1,"v":0.102,"f":"940"},{"t":8.1,"v":0.102,"f":"940"},
      {"t":0,"v":0.051,"f":"540"},{"t":0.25,"v":0.051,"f":"540"},{"t":0.5,"v":0.051,"f":"540"},{"t":0.75,"v":0.052,"f":"540"},{"t":1,"v":0.053,"f":"540"},{"t":1.25,"v":0.055,"f":"540"},{"t":1.5,"v":0.056,"f":"540"},{"t":1.75,"v":0.057,"f":"540"},{"t":2,"v":0.058,"f":"540"},{"t":2.25,"v":0.056,"f":"540"},{"t":2.5,"v":0.057,"f":"540"},{"t":2.75,"v":0.058,"f":"540"},{"t":3,"v":0.056,"f":"540"},{"t":3.25,"v":0.055,"f":"540"},{"t":3.5,"v":0.057,"f":"540"},{"t":3.75,"v":0.058,"f":"540"},{"t":4,"v":0.056,"f":"540"},{"t":4.25,"v":0.057,"f":"540"},{"t":4.5,"v":0.055,"f":"540"},{"t":4.75,"v":0.056,"f":"540"},{"t":5,"v":0.057,"f":"540"},{"t":5.25,"v":0.054,"f":"540"},{"t":5.5,"v":0.053,"f":"540"},{"t":5.75,"v":0.056,"f":"540"},{"t":6,"v":0.052,"f":"540"},{"t":6.25,"v":0.052,"f":"540"},{"t":6.5,"v":0.051,"f":"540"},{"t":6.75,"v":0.051,"f":"540"},{"t":7,"v":0.052,"f":"540"},{"t":7.25,"v":0.052,"f":"540"},{"t":7.5,"v":0.054,"f":"540"},{"t":7.75,"v":0.053,"f":"540"},{"t":8,"v":0.052,"f":"540"},{"t":8.25,"v":0.052,"f":"540"},{"t":8.5,"v":0.052,"f":"540"},{"t":8.75,"v":0.051,"f":"540"},{"t":9,"v":0.051,"f":"540"},{"t":9.25,"v":0.052,"f":"540"},{"t":9.5,"v":0.052,"f":"540"},{"t":9.75,"v":0.052,"f":"540"},{"t":10,"v":0.052,"f":"540"},{"t":10.25,"v":0.052,"f":"540"},{"t":10.5,"v":0.053,"f":"540"},{"t":10.75,"v":0.052,"f":"540"},{"t":11,"v":0.052,"f":"540"},{"t":11.25,"v":0.053,"f":"540"},{"t":11.5,"v":0.052,"f":"540"},{"t":11.75,"v":0.053,"f":"540"},{"t":12,"v":0.053,"f":"540"},{"t":12.25,"v":0.052,"f":"540"},{"t":12.5,"v":0.052,"f":"540"},{"t":12.75,"v":0.053,"f":"540"},{"t":13,"v":0.054,"f":"540"},{"t":13.25,"v":0.056,"f":"540"},{"t":13.5,"v":0.06,"f":"540"},{"t":13.75,"v":0.064,"f":"540"},{"t":14,"v":0.058,"f":"540"},{"t":14.25,"v":0.054,"f":"540"},{"t":14.5,"v":0.053,"f":"540"},{"t":14.75,"v":0.054,"f":"540"},{"t":15,"v":0.056,"f":"540"},{"t":15.25,"v":0.058,"f":"540"},{"t":15.5,"v":0.06,"f":"540"},{"t":15.75,"v":0.055,"f":"540"},{"t":16,"v":0.056,"f":"540"},{"t":16.25,"v":0.06,"f":"540"},{"t":16.5,"v":0.058,"f":"540"},{"t":16.75,"v":0.055,"f":"540"},{"t":17,"v":0.054,"f":"540"},{"t":17.25,"v":0.053,"f":"540"},{"t":17.5,"v":0.053,"f":"540"},{"t":17.75,"v":0.053,"f":"540"},{"t":18,"v":0.052,"f":"540"},{"t":18.25,"v":0.053,"f":"540"},{"t":18.5,"v":0.052,"f":"540"},{"t":18.75,"v":0.052,"f":"540"},{"t":19,"v":0.053,"f":"540"},{"t":19.25,"v":0.052,"f":"540"},{"t":19.5,"v":0.052,"f":"540"},{"t":19.75,"v":0.053,"f":"540"},{"t":20,"v":0.053,"f":"540"},{"t":20.25,"v":0.052,"f":"540"},{"t":20.5,"v":0.053,"f":"540"},{"t":20.75,"v":0.053,"f":"540"},{"t":21,"v":0.053,"f":"540"},{"t":21.25,"v":0.054,"f":"540"},{"t":21.5,"v":0.055,"f":"540"},{"t":21.75,"v":0.055,"f":"540"},{"t":22,"v":0.056,"f":"540"},{"t":22.25,"v":0.055,"f":"540"},{"t":22.5,"v":0.054,"f":"540"},{"t":22.75,"v":0.055,"f":"540"},{"t":23,"v":0.056,"f":"540"},{"t":23.25,"v":0.055,"f":"540"},{"t":23.5,"v":0.054,"f":"540"},{"t":23.75,"v":0.054,"f":"540"},{"t":24,"v":0.054,"f":"540"},
      {"t":1.6,"v":0.06,"f":"540"},{"t":2.1,"v":0.061,"f":"540"},{"t":2.6,"v":0.06,"f":"540"},{"t":3.4,"v":0.06,"f":"540"},{"t":3.9,"v":0.062,"f":"540"},{"t":4.3,"v":0.061,"f":"540"},{"t":13.6,"v":0.068,"f":"540"},{"t":13.7,"v":0.07,"f":"540"},{"t":13.9,"v":0.066,"f":"540"},{"t":15.3,"v":0.072,"f":"540"},{"t":15.4,"v":0.078,"f":"540"},{"t":15.45,"v":0.085,"f":"540"},{"t":15.5,"v":0.065,"f":"540"},{"t":16.2,"v":0.07,"f":"540"},{"t":16.3,"v":0.064,"f":"540"},{"t":16.35,"v":0.075,"f":"540"},{"t":22.1,"v":0.059,"f":"540"},{"t":23,"v":0.06,"f":"540"},{"t":7.55,"v":0.057,"f":"540"},
      {"t":0,"v":0.044,"f":"120"},{"t":0.5,"v":0.045,"f":"120"},{"t":1,"v":0.047,"f":"120"},{"t":1.5,"v":0.048,"f":"120"},{"t":2,"v":0.047,"f":"120"},{"t":2.5,"v":0.048,"f":"120"},{"t":3,"v":0.047,"f":"120"},{"t":3.5,"v":0.047,"f":"120"},{"t":4,"v":0.048,"f":"120"},{"t":4.5,"v":0.047,"f":"120"},{"t":5,"v":0.047,"f":"120"},{"t":5.5,"v":0.046,"f":"120"},{"t":6,"v":0.045,"f":"120"},{"t":6.5,"v":0.045,"f":"120"},{"t":7,"v":0.045,"f":"120"},{"t":7.5,"v":0.045,"f":"120"},{"t":8,"v":0.044,"f":"120"},{"t":8.5,"v":0.045,"f":"120"},{"t":9,"v":0.045,"f":"120"},{"t":9.5,"v":0.045,"f":"120"},{"t":10,"v":0.045,"f":"120"},{"t":10.5,"v":0.045,"f":"120"},{"t":11,"v":0.045,"f":"120"},{"t":11.5,"v":0.045,"f":"120"},{"t":12,"v":0.045,"f":"120"},{"t":12.5,"v":0.045,"f":"120"},{"t":13,"v":0.046,"f":"120"},{"t":13.5,"v":0.046,"f":"120"},{"t":14,"v":0.046,"f":"120"},{"t":14.5,"v":0.047,"f":"120"},{"t":15,"v":0.047,"f":"120"},{"t":15.5,"v":0.046,"f":"120"},{"t":16,"v":0.046,"f":"120"},{"t":16.5,"v":0.047,"f":"120"},{"t":17,"v":0.047,"f":"120"},{"t":17.5,"v":0.047,"f":"120"},{"t":18,"v":0.047,"f":"120"},{"t":18.5,"v":0.047,"f":"120"},{"t":19,"v":0.047,"f":"120"},{"t":19.5,"v":0.047,"f":"120"},{"t":20,"v":0.047,"f":"120"},{"t":20.5,"v":0.047,"f":"120"},{"t":21,"v":0.047,"f":"120"},{"t":21.5,"v":0.048,"f":"120"},{"t":22,"v":0.048,"f":"120"},{"t":22.5,"v":0.047,"f":"120"},{"t":23,"v":0.047,"f":"120"},{"t":23.5,"v":0.048,"f":"120"},{"t":24,"v":0.047,"f":"120"},
      {"t":0.25,"v":0.045,"f":"120"},{"t":2.25,"v":0.048,"f":"120"},{"t":6.25,"v":0.045,"f":"120"},{"t":9.75,"v":0.045,"f":"120"},{"t":12.25,"v":0.045,"f":"120"},{"t":17.25,"v":0.047,"f":"120"},{"t":19.25,"v":0.047,"f":"120"},{"t":21.25,"v":0.048,"f":"120"},
      {"t":1.2,"v":0.062,"f":"120"},{"t":1.5,"v":0.07,"f":"120"},{"t":2.3,"v":0.066,"f":"120"},{"t":2.8,"v":0.072,"f":"120"},{"t":3.3,"v":0.065,"f":"120"},{"t":4.4,"v":0.061,"f":"120"},{"t":4.8,"v":0.068,"f":"120"},{"t":5,"v":0.075,"f":"120"},{"t":5.2,"v":0.063,"f":"120"},{"t":6.4,"v":0.056,"f":"120"},{"t":9.6,"v":0.058,"f":"120"},{"t":12,"v":0.062,"f":"120"},{"t":13.8,"v":0.057,"f":"120"},{"t":14.7,"v":0.06,"f":"120"},{"t":15,"v":0.068,"f":"120"},{"t":15.6,"v":0.08,"f":"120"},{"t":15.7,"v":0.072,"f":"120"},{"t":16,"v":0.078,"f":"120"},{"t":16.6,"v":0.065,"f":"120"},{"t":18.5,"v":0.06,"f":"120"},{"t":20.6,"v":0.062,"f":"120"},{"t":22.6,"v":0.07,"f":"120"},{"t":22.9,"v":0.08,"f":"120"},{"t":23.4,"v":0.075,"f":"120"},{"t":23.6,"v":0.09,"f":"120"},{"t":23.9,"v":0.085,"f":"120"},{"t":7.5,"v":0.055,"f":"120"},{"t":10.5,"v":0.05,"f":"120"},
      {"t":0,"v":0.037,"f":"52"},{"t":0.5,"v":0.038,"f":"52"},{"t":1,"v":0.039,"f":"52"},{"t":1.5,"v":0.039,"f":"52"},{"t":2,"v":0.039,"f":"52"},{"t":2.5,"v":0.039,"f":"52"},{"t":3,"v":0.038,"f":"52"},{"t":3.5,"v":0.039,"f":"52"},{"t":4,"v":0.039,"f":"52"},{"t":4.5,"v":0.038,"f":"52"},{"t":5,"v":0.039,"f":"52"},{"t":5.5,"v":0.038,"f":"52"},{"t":6.5,"v":0.037,"f":"52"},{"t":7,"v":0.037,"f":"52"},{"t":7.5,"v":0.037,"f":"52"},{"t":8,"v":0.038,"f":"52"},{"t":8.5,"v":0.037,"f":"52"},{"t":9,"v":0.038,"f":"52"},{"t":9.5,"v":0.037,"f":"52"},{"t":10,"v":0.037,"f":"52"},{"t":10.5,"v":0.037,"f":"52"},{"t":11,"v":0.037,"f":"52"},{"t":11.5,"v":0.038,"f":"52"},{"t":12,"v":0.037,"f":"52"},{"t":12.5,"v":0.038,"f":"52"},{"t":13,"v":0.039,"f":"52"},{"t":14,"v":0.041,"f":"52"},{"t":14.5,"v":0.042,"f":"52"},{"t":15,"v":0.043,"f":"52"},{"t":16,"v":0.044,"f":"52"},{"t":17,"v":0.04,"f":"52"},{"t":17.5,"v":0.039,"f":"52"},{"t":18,"v":0.039,"f":"52"},{"t":18.5,"v":0.039,"f":"52"},{"t":19,"v":0.039,"f":"52"},{"t":19.5,"v":0.039,"f":"52"},{"t":20,"v":0.038,"f":"52"},{"t":20.5,"v":0.039,"f":"52"},{"t":21,"v":0.039,"f":"52"},{"t":21.5,"v":0.039,"f":"52"},{"t":22,"v":0.039,"f":"52"},{"t":23,"v":0.041,"f":"52"},{"t":23.5,"v":0.045,"f":"52"},{"t":24,"v":0.044,"f":"52"},
      {"t":10.2,"v":0.131,"f":"52"},{"t":10.2,"v":0.092,"f":"52"},{"t":10.25,"v":0.079,"f":"52"},{"t":10.3,"v":0.071,"f":"52"},{"t":22.3,"v":0.165,"f":"52"},{"t":22.4,"v":0.155,"f":"52"},{"t":22.6,"v":0.1,"f":"52"},{"t":22.8,"v":0.11,"f":"52"},{"t":23.1,"v":0.09,"f":"52"},{"t":23.4,"v":0.085,"f":"52"},{"t":23,"v":0.075,"f":"52"},{"t":21.8,"v":0.075,"f":"52"},{"t":13.5,"v":0.045,"f":"52"},{"t":15.6,"v":0.06,"f":"52"},{"t":16.1,"v":0.05,"f":"52"},{"t":15,"v":0.07,"f":"52"},
      {"t":0,"v":0.034,"f":"272"},{"t":0.25,"v":0.035,"f":"272"},{"t":0.5,"v":0.036,"f":"272"},{"t":0.75,"v":0.034,"f":"272"},{"t":1,"v":0.036,"f":"272"},{"t":1.25,"v":0.038,"f":"272"},{"t":1.5,"v":0.037,"f":"272"},{"t":1.75,"v":0.039,"f":"272"},{"t":2,"v":0.036,"f":"272"},{"t":2.25,"v":0.038,"f":"272"},{"t":2.5,"v":0.04,"f":"272"},{"t":2.75,"v":0.037,"f":"272"},{"t":3,"v":0.036,"f":"272"},{"t":3.25,"v":0.038,"f":"272"},{"t":3.5,"v":0.035,"f":"272"},{"t":3.75,"v":0.037,"f":"272"},{"t":4,"v":0.039,"f":"272"},{"t":4.25,"v":0.036,"f":"272"},{"t":4.5,"v":0.038,"f":"272"},{"t":4.75,"v":0.04,"f":"272"},{"t":5,"v":0.037,"f":"272"},{"t":5.25,"v":0.036,"f":"272"},{"t":5.5,"v":0.038,"f":"272"},{"t":5.75,"v":0.042,"f":"272"},{"t":6,"v":0.036,"f":"272"},{"t":6.25,"v":0.035,"f":"272"},{"t":6.5,"v":0.034,"f":"272"},{"t":6.75,"v":0.034,"f":"272"},{"t":7,"v":0.035,"f":"272"},{"t":7.25,"v":0.034,"f":"272"},{"t":7.5,"v":0.034,"f":"272"},{"t":7.75,"v":0.035,"f":"272"},{"t":8,"v":0.034,"f":"272"},{"t":8.25,"v":0.034,"f":"272"},{"t":8.5,"v":0.033,"f":"272"},{"t":8.75,"v":0.034,"f":"272"},{"t":9,"v":0.034,"f":"272"},{"t":9.25,"v":0.034,"f":"272"},{"t":9.5,"v":0.035,"f":"272"},{"t":9.75,"v":0.034,"f":"272"},{"t":10,"v":0.034,"f":"272"},{"t":10.25,"v":0.034,"f":"272"},{"t":10.5,"v":0.034,"f":"272"},{"t":10.75,"v":0.035,"f":"272"},{"t":11,"v":0.036,"f":"272"},{"t":11.25,"v":0.035,"f":"272"},{"t":11.5,"v":0.034,"f":"272"},{"t":11.75,"v":0.034,"f":"272"},{"t":12,"v":0.034,"f":"272"},{"t":12.25,"v":0.035,"f":"272"},{"t":12.5,"v":0.035,"f":"272"},{"t":12.75,"v":0.036,"f":"272"},{"t":13,"v":0.038,"f":"272"},{"t":13.25,"v":0.04,"f":"272"},{"t":13.5,"v":0.042,"f":"272"},{"t":13.75,"v":0.039,"f":"272"},{"t":14,"v":0.041,"f":"272"},{"t":14.25,"v":0.038,"f":"272"},{"t":14.5,"v":0.037,"f":"272"},{"t":14.75,"v":0.036,"f":"272"},{"t":15,"v":0.039,"f":"272"},{"t":15.25,"v":0.043,"f":"272"},{"t":15.5,"v":0.047,"f":"272"},{"t":15.75,"v":0.041,"f":"272"},{"t":16,"v":0.04,"f":"272"},{"t":16.25,"v":0.044,"f":"272"},{"t":16.5,"v":0.042,"f":"272"},{"t":16.75,"v":0.039,"f":"272"},{"t":17,"v":0.037,"f":"272"},{"t":17.25,"v":0.036,"f":"272"},{"t":17.5,"v":0.035,"f":"272"},{"t":17.75,"v":0.034,"f":"272"},{"t":18,"v":0.034,"f":"272"},{"t":18.25,"v":0.033,"f":"272"},{"t":18.5,"v":0.034,"f":"272"},{"t":18.75,"v":0.033,"f":"272"},{"t":19,"v":0.034,"f":"272"},{"t":19.25,"v":0.033,"f":"272"},{"t":19.5,"v":0.034,"f":"272"},{"t":19.75,"v":0.033,"f":"272"},{"t":20,"v":0.034,"f":"272"},{"t":20.25,"v":0.034,"f":"272"},{"t":20.5,"v":0.035,"f":"272"},{"t":20.75,"v":0.035,"f":"272"},{"t":21,"v":0.036,"f":"272"},{"t":21.25,"v":0.037,"f":"272"},{"t":21.5,"v":0.038,"f":"272"},{"t":21.75,"v":0.04,"f":"272"},{"t":22,"v":0.038,"f":"272"},{"t":22.25,"v":0.039,"f":"272"},{"t":22.5,"v":0.041,"f":"272"},{"t":22.75,"v":0.037,"f":"272"},{"t":23,"v":0.039,"f":"272"},{"t":23.25,"v":0.036,"f":"272"},{"t":23.5,"v":0.038,"f":"272"},{"t":23.75,"v":0.037,"f":"272"},{"t":24,"v":0.036,"f":"272"},
      {"t":0,"v":0.032,"f":"272"},{"t":0.5,"v":0.033,"f":"272"},{"t":1,"v":0.034,"f":"272"},{"t":1.5,"v":0.041,"f":"272"},{"t":2,"v":0.043,"f":"272"},{"t":2.5,"v":0.035,"f":"272"},{"t":3,"v":0.041,"f":"272"},{"t":3.5,"v":0.039,"f":"272"},{"t":4,"v":0.034,"f":"272"},{"t":4.5,"v":0.042,"f":"272"},{"t":5,"v":0.034,"f":"272"},{"t":5.5,"v":0.035,"f":"272"},{"t":6.5,"v":0.036,"f":"272"},{"t":7,"v":0.036,"f":"272"},{"t":7.5,"v":0.035,"f":"272"},{"t":8,"v":0.036,"f":"272"},{"t":8.5,"v":0.035,"f":"272"},{"t":9,"v":0.035,"f":"272"},{"t":9.5,"v":0.033,"f":"272"},{"t":10,"v":0.036,"f":"272"},{"t":10.5,"v":0.035,"f":"272"},{"t":11,"v":0.034,"f":"272"},{"t":11.5,"v":0.035,"f":"272"},{"t":12,"v":0.036,"f":"272"},{"t":12.5,"v":0.037,"f":"272"},{"t":13,"v":0.036,"f":"272"},{"t":13.5,"v":0.045,"f":"272"},{"t":14,"v":0.038,"f":"272"},{"t":14.5,"v":0.04,"f":"272"},{"t":15,"v":0.045,"f":"272"},{"t":15.5,"v":0.052,"f":"272"},{"t":16,"v":0.046,"f":"272"},{"t":16.5,"v":0.048,"f":"272"},{"t":17,"v":0.04,"f":"272"},{"t":17.5,"v":0.033,"f":"272"},{"t":18,"v":0.035,"f":"272"},{"t":18.5,"v":0.035,"f":"272"},{"t":19,"v":0.035,"f":"272"},{"t":19.5,"v":0.036,"f":"272"},{"t":20,"v":0.035,"f":"272"},{"t":20.5,"v":0.033,"f":"272"},{"t":21,"v":0.039,"f":"272"},{"t":21.5,"v":0.042,"f":"272"},{"t":22,"v":0.044,"f":"272"},{"t":22.5,"v":0.036,"f":"272"},{"t":23,"v":0.043,"f":"272"},{"t":23.5,"v":0.041,"f":"272"},{"t":24,"v":0.039,"f":"272"},
      {"t":0.6,"v":0.038,"f":"272"},{"t":1.1,"v":0.04,"f":"272"},{"t":1.6,"v":0.035,"f":"272"},{"t":2.1,"v":0.041,"f":"272"},{"t":2.6,"v":0.043,"f":"272"},{"t":3.1,"v":0.034,"f":"272"},{"t":3.6,"v":0.042,"f":"272"},{"t":4.1,"v":0.04,"f":"272"},{"t":4.6,"v":0.035,"f":"272"},{"t":5.1,"v":0.041,"f":"272"},{"t":5.6,"v":0.033,"f":"272"},{"t":13.1,"v":0.041,"f":"272"},{"t":13.6,"v":0.037,"f":"272"},{"t":14.1,"v":0.044,"f":"272"},{"t":14.6,"v":0.042,"f":"272"},{"t":15.1,"v":0.036,"f":"272"},{"t":15.6,"v":0.044,"f":"272"},{"t":16.1,"v":0.05,"f":"272"},{"t":16.6,"v":0.038,"f":"272"},{"t":21.1,"v":0.034,"f":"272"},{"t":21.6,"v":0.036,"f":"272"},{"t":22.1,"v":0.041,"f":"272"},{"t":22.6,"v":0.043,"f":"272"},{"t":23.1,"v":0.035,"f":"272"},{"t":23.6,"v":0.044,"f":"272"},
      {"t":1.6,"v":0.048,"f":"272"},{"t":2.2,"v":0.05,"f":"272"},{"t":2.7,"v":0.045,"f":"272"},{"t":3.2,"v":0.047,"f":"272"},{"t":4.1,"v":0.044,"f":"272"},{"t":5,"v":0.046,"f":"272"},{"t":13.7,"v":0.05,"f":"272"},{"t":15.4,"v":0.06,"f":"272"},{"t":15.5,"v":0.07,"f":"272"},{"t":16.3,"v":0.08,"f":"272"},{"t":16.4,"v":0.1,"f":"272"},{"t":16.45,"v":0.115,"f":"272"},{"t":16.5,"v":0.09,"f":"272"},{"t":16.6,"v":0.065,"f":"272"},{"t":16.9,"v":0.155,"f":"272"},{"t":16.9,"v":0.12,"f":"272"},{"t":22.5,"v":0.055,"f":"272"},{"t":23.3,"v":0.05,"f":"272"},
      {"t":0,"v":0.032,"f":"100"},{"t":0.5,"v":0.031,"f":"100"},{"t":1,"v":0.032,"f":"100"},{"t":1.5,"v":0.033,"f":"100"},{"t":2,"v":0.034,"f":"100"},{"t":2.5,"v":0.032,"f":"100"},{"t":3,"v":0.031,"f":"100"},{"t":3.5,"v":0.033,"f":"100"},{"t":4,"v":0.034,"f":"100"},{"t":4.5,"v":0.032,"f":"100"},{"t":5,"v":0.033,"f":"100"},{"t":5.5,"v":0.032,"f":"100"},{"t":6,"v":0.032,"f":"100"},{"t":6.5,"v":0.031,"f":"100"},{"t":7,"v":0.031,"f":"100"},{"t":7.5,"v":0.03,"f":"100"},{"t":8,"v":0.03,"f":"100"},{"t":8.5,"v":0.03,"f":"100"},{"t":9,"v":0.031,"f":"100"},{"t":9.5,"v":0.03,"f":"100"},{"t":10,"v":0.031,"f":"100"},{"t":10.5,"v":0.031,"f":"100"},{"t":11,"v":0.03,"f":"100"},{"t":11.5,"v":0.03,"f":"100"},{"t":12,"v":0.031,"f":"100"},{"t":12.5,"v":0.031,"f":"100"},{"t":13,"v":0.033,"f":"100"},{"t":13.5,"v":0.034,"f":"100"},{"t":14,"v":0.032,"f":"100"},{"t":14.5,"v":0.033,"f":"100"},{"t":15,"v":0.034,"f":"100"},{"t":15.5,"v":0.036,"f":"100"},{"t":16,"v":0.035,"f":"100"},{"t":16.5,"v":0.034,"f":"100"},{"t":17,"v":0.032,"f":"100"},{"t":17.5,"v":0.031,"f":"100"},{"t":18,"v":0.031,"f":"100"},{"t":18.5,"v":0.031,"f":"100"},{"t":19,"v":0.031,"f":"100"},{"t":19.5,"v":0.03,"f":"100"},{"t":20,"v":0.031,"f":"100"},{"t":20.5,"v":0.031,"f":"100"},{"t":21,"v":0.031,"f":"100"},{"t":21.5,"v":0.032,"f":"100"},{"t":22,"v":0.033,"f":"100"},{"t":22.5,"v":0.034,"f":"100"},{"t":23,"v":0.033,"f":"100"},{"t":23.5,"v":0.034,"f":"100"},{"t":24,"v":0.033,"f":"100"},
      {"t":2,"v":0.045,"f":"100"},{"t":2.9,"v":0.05,"f":"100"},{"t":4.5,"v":0.04,"f":"100"},{"t":13.5,"v":0.04,"f":"100"},{"t":15.5,"v":0.06,"f":"100"},{"t":22.2,"v":0.055,"f":"100"},{"t":22.6,"v":0.075,"f":"100"},{"t":22.8,"v":0.085,"f":"100"},{"t":23.2,"v":0.09,"f":"100"},{"t":23.5,"v":0.1,"f":"100"},{"t":23.8,"v":0.11,"f":"100"},{"t":23.9,"v":0.095,"f":"100"},{"t":14.2,"v":0.038,"f":"100"},{"t":10.6,"v":0.037,"f":"100"},{"t":9.5,"v":0.039,"f":"100"},{"t":1.2,"v":0.035,"f":"100"},{"t":3.2,"v":0.036,"f":"100"},{"t":4.7,"v":0.035,"f":"100"},{"t":14.7,"v":0.036,"f":"100"},{"t":16.2,"v":0.038,"f":"100"},{"t":21.7,"v":0.035,"f":"100"},{"t":23.2,"v":0.037,"f":"100"},
      {"t":0,"v":0.029,"f":"148"},{"t":0.5,"v":0.029,"f":"148"},{"t":1,"v":0.03,"f":"148"},{"t":1.5,"v":0.031,"f":"148"},{"t":2,"v":0.029,"f":"148"},{"t":2.5,"v":0.03,"f":"148"},{"t":3,"v":0.028,"f":"148"},{"t":3.5,"v":0.03,"f":"148"},{"t":4,"v":0.029,"f":"148"},{"t":4.5,"v":0.031,"f":"148"},{"t":5,"v":0.029,"f":"148"},{"t":5.5,"v":0.03,"f":"148"},{"t":6.5,"v":0.029,"f":"148"},{"t":7,"v":0.028,"f":"148"},{"t":7.5,"v":0.029,"f":"148"},{"t":8,"v":0.028,"f":"148"},{"t":8.5,"v":0.027,"f":"148"},{"t":9,"v":0.028,"f":"148"},{"t":9.5,"v":0.028,"f":"148"},{"t":10,"v":0.027,"f":"148"},{"t":10.5,"v":0.028,"f":"148"},{"t":11,"v":0.027,"f":"148"},{"t":11.5,"v":0.028,"f":"148"},{"t":12,"v":0.028,"f":"148"},{"t":12.5,"v":0.028,"f":"148"},{"t":13,"v":0.03,"f":"148"},{"t":13.5,"v":0.031,"f":"148"},{"t":14,"v":0.03,"f":"148"},{"t":14.5,"v":0.029,"f":"148"},{"t":15,"v":0.032,"f":"148"},{"t":15.5,"v":0.034,"f":"148"},{"t":16,"v":0.031,"f":"148"},{"t":16.5,"v":0.032,"f":"148"},{"t":17,"v":0.028,"f":"148"},{"t":17.5,"v":0.028,"f":"148"},{"t":18,"v":0.028,"f":"148"},{"t":18.5,"v":0.029,"f":"148"},{"t":19,"v":0.028,"f":"148"},{"t":19.5,"v":0.028,"f":"148"},{"t":20,"v":0.029,"f":"148"},{"t":20.5,"v":0.028,"f":"148"},{"t":21,"v":0.03,"f":"148"},{"t":21.5,"v":0.029,"f":"148"},{"t":22,"v":0.03,"f":"148"},{"t":22.5,"v":0.031,"f":"148"},{"t":23,"v":0.03,"f":"148"},{"t":23.5,"v":0.031,"f":"148"},{"t":24,"v":0.032,"f":"148"},
      {"t":0.25,"v":0.031,"f":"148"},{"t":1.25,"v":0.028,"f":"148"},{"t":2.25,"v":0.032,"f":"148"},{"t":3.25,"v":0.03,"f":"148"},{"t":4.25,"v":0.028,"f":"148"},{"t":5.25,"v":0.031,"f":"148"},{"t":6.75,"v":0.03,"f":"148"},{"t":7.75,"v":0.027,"f":"148"},{"t":8.75,"v":0.029,"f":"148"},{"t":9.75,"v":0.027,"f":"148"},{"t":10.75,"v":0.029,"f":"148"},{"t":11.75,"v":0.027,"f":"148"},{"t":12.75,"v":0.029,"f":"148"},{"t":13.75,"v":0.032,"f":"148"},{"t":14.75,"v":0.031,"f":"148"},{"t":15.25,"v":0.033,"f":"148"},{"t":16.75,"v":0.03,"f":"148"},{"t":17.75,"v":0.027,"f":"148"},{"t":18.75,"v":0.028,"f":"148"},{"t":19.75,"v":0.029,"f":"148"},{"t":20.75,"v":0.029,"f":"148"},{"t":21.75,"v":0.028,"f":"148"},{"t":22.75,"v":0.03,"f":"148"},{"t":23.75,"v":0.033,"f":"148"},
      {"t":1.1,"v":0.033,"f":"148"},{"t":2.1,"v":0.034,"f":"148"},{"t":3.1,"v":0.032,"f":"148"},{"t":4.1,"v":0.033,"f":"148"},{"t":13.1,"v":0.033,"f":"148"},{"t":15.6,"v":0.036,"f":"148"},{"t":21.6,"v":0.032,"f":"148"},{"t":22.6,"v":0.033,"f":"148"},{"t":23.4,"v":0.035,"f":"148"},
      {"t":1.3,"v":0.062,"f":"148"},{"t":1.4,"v":0.055,"f":"148"},{"t":2.5,"v":0.065,"f":"148"},{"t":3.1,"v":0.058,"f":"148"},{"t":4.2,"v":0.06,"f":"148"},{"t":4.6,"v":0.052,"f":"148"},{"t":13.9,"v":0.058,"f":"148"},{"t":15.5,"v":0.075,"f":"148"},{"t":15.6,"v":0.09,"f":"148"},{"t":16.1,"v":0.14,"f":"148"},{"t":16.2,"v":0.125,"f":"148"},{"t":16.3,"v":0.1,"f":"148"},{"t":16.5,"v":0.08,"f":"148"},{"t":22,"v":0.06,"f":"148"},{"t":23,"v":0.05,"f":"148"},{"t":23.8,"v":0.07,"f":"148"},{"t":9.2,"v":0.045,"f":"148"}
    ]
  },
  "vconcat": [
    {
      "width": 450,
      "height": 279,
      "layer": [
        {
          "data": {"name": "az"},
          "mark": {"type": "point", "shape": "M-1,-0.65H1V0.65H-1Z", "filled": true, "size": 20, "opacity": 1, "strokeWidth": 0, "clip": true},
          "encoding": {
            "x": {"field": "t", "type": "quantitative", "scale": {"domain": [0, 24], "nice": false, "zero": false},
                  "axis": {"orient": "bottom", "values": [0, 6, 12, 18, 24], "labels": false, "title": null, "tickSize": 9}},
            "y": {"field": "v", "type": "quantitative", "scale": {"domain": [-90, 90], "nice": false, "zero": false},
                  "axis": {"orient": "left", "values": [-90, -60, -30, 0, 30, 60, 90], "tickSize": 9, "labelFlush": true, "title": "Azimuthal angle (deg)", "titlePadding": 16}},
            "color": {"field": "f", "type": "nominal",
                      "scale": {"domain": ["52", "100", "120", "148", "272", "540", "940"], "range": ["#ff0000", "#ffa500", "#c8c000", "#00ff00", "#00a0ff", "#0000ff", "#a020f0"]},
                      "legend": null}
          }
        },
        {
          "data": {"name": "jup"},
          "mark": {"type": "line", "color": "black", "strokeWidth": 3.5, "interpolate": "step-after", "clip": true},
          "encoding": {
            "x": {"field": "t", "type": "quantitative", "axis": {"orient": "bottom", "values": [1,2,3,4,5,7,8,9,10,11,13,14,15,16,17,19,20,21,22,23], "labels": false, "title": null, "tickSize": 4.5}},
            "y": {"field": "v", "type": "quantitative", "axis": {"orient": "left", "values": [-80,-70,-50,-40,-20,-10,10,20,40,50,70,80], "labels": false, "title": null, "tickSize": 4.5}},
            "detail": {"field": "seg", "type": "nominal"}
          }
        },
        {
          "data": {"name": "sat"},
          "mark": {"type": "line", "color": "#ff0000", "strokeWidth": 3.5, "interpolate": "step-after"},
          "encoding": {
            "x": {"field": "t", "type": "quantitative", "axis": {"orient": "top", "values": [0, 6, 12, 18, 24], "labels": false, "title": null, "tickSize": 9}},
            "y": {"field": "v", "type": "quantitative", "axis": {"orient": "right", "values": [-90, -60, -30, 0, 30, 60, 90], "labels": false, "title": null, "tickSize": 9}}
          }
        },
        {
          "data": {"name": "lab"},
          "mark": {"type": "text", "align": "left", "baseline": "middle", "dx": 3, "fontSize": 13.5, "color": "black"},
          "encoding": {
            "x": {"field": "t", "type": "quantitative", "axis": {"orient": "top", "values": [1,2,3,4,5,7,8,9,10,11,13,14,15,16,17,19,20,21,22,23], "labels": false, "title": null, "tickSize": 4.5}},
            "y": {"field": "v", "type": "quantitative", "axis": {"orient": "right", "values": [-80,-70,-50,-40,-20,-10,10,20,40,50,70,80], "labels": false, "title": null, "tickSize": 4.5}},
            "text": {"field": "name", "type": "nominal"}
          }
        }
      ],
      "resolve": {"axis": {"x": "independent", "y": "independent"}}
    },
    {
      "width": 450,
      "height": 208,
      "layer": [
        {
          "data": {"name": "int"},
          "mark": {"type": "point", "shape": "M-1,-0.65H1V0.65H-1Z", "filled": true, "size": 20, "opacity": 1, "strokeWidth": 0, "clip": true},
          "encoding": {
            "x": {"field": "t", "type": "quantitative", "scale": {"domain": [0, 24], "nice": false, "zero": false},
                  "axis": {"orient": "bottom", "values": [0, 6, 12, 18, 24], "tickSize": 9, "labelFlush": false, "title": "time - hours on 1992-08-26", "titlePadding": 8}},
            "y": {"field": "v", "type": "quantitative", "scale": {"type": "log", "domain": [0.01, 1], "nice": false},
                  "axis": {"orient": "left", "values": [0.01, 0.1, 1], "format": ".2f", "tickSize": 9, "labelFlush": true, "title": "intensity (microvolt/sqrt(Hz))"}},
            "color": {"field": "f", "type": "nominal",
                      "scale": {"domain": ["52", "100", "120", "148", "272", "540", "940"], "range": ["#ff0000", "#ffa500", "#c8c000", "#00ff00", "#00a0ff", "#0000ff", "#a020f0"]},
                      "legend": {
                        "orient": "bottom", "direction": "horizontal", "title": "Frequencies (kHz):", "titleOrient": "left",
                        "titleFontSize": 14.5, "titleFontWeight": "normal", "titleColor": "black", "titlePadding": -8,
                        "labelFontSize": 14.5, "symbolSize": 0, "symbolStrokeWidth": 0, "symbolOpacity": 0, "labelOffset": 0,
                        "gridAlign": "all", "columnPadding": 11, "offset": 15,
                        "encoding": {"labels": {"fill": {"condition": [
                          {"test": "datum.value == '52'", "value": "#ff0000"},
                          {"test": "datum.value == '100'", "value": "#ffa500"},
                          {"test": "datum.value == '120'", "value": "#c8c000"},
                          {"test": "datum.value == '148'", "value": "#00ff00"},
                          {"test": "datum.value == '272'", "value": "#00a0ff"},
                          {"test": "datum.value == '540'", "value": "#0000ff"}
                        ], "value": "#a020f0"}}}
                      }}
          }
        },
        {
          "data": {"name": "frame"},
          "mark": {"type": "point", "opacity": 0},
          "encoding": {
            "x": {"field": "t", "type": "quantitative", "axis": {"orient": "bottom", "values": [1,2,3,4,5,7,8,9,10,11,13,14,15,16,17,19,20,21,22,23], "labels": false, "title": null, "tickSize": 4.5}},
            "y": {"field": "v", "type": "quantitative", "axis": {"orient": "left", "values": [0.0215, 0.0464, 0.215, 0.464], "labels": false, "title": null, "tickSize": 5}}
          }
        },
        {
          "data": {"name": "frame"},
          "mark": {"type": "point", "opacity": 0},
          "encoding": {
            "x": {"field": "t", "type": "quantitative", "axis": {"orient": "top", "values": [0, 6, 12, 18, 24], "labels": false, "title": null, "tickSize": 9}},
            "y": {"field": "v", "type": "quantitative", "axis": {"orient": "right", "values": [0.01, 0.1, 1], "labels": false, "title": null, "tickSize": 9}}
          }
        },
        {
          "data": {"name": "frame"},
          "mark": {"type": "point", "opacity": 0},
          "encoding": {
            "x": {"field": "t", "type": "quantitative", "axis": {"orient": "top", "values": [1,2,3,4,5,7,8,9,10,11,13,14,15,16,17,19,20,21,22,23], "labels": false, "title": null, "tickSize": 4.5}},
            "y": {"field": "v", "type": "quantitative", "axis": {"orient": "right", "values": [0.0215, 0.0464, 0.215, 0.464], "labels": false, "title": null, "tickSize": 5}}
          }
        }
      ],
      "resolve": {"axis": {"x": "independent", "y": "independent"}}
    }
  ],
  "spacing": 21.5,
  "bounds": "flush",
  "resolve": {"scale": {"color": "independent"}},
  "config": {
    "font": "Liberation Sans",
    "view": {"stroke": "black", "strokeWidth": 1.5},
    "axis": {"domain": false, "grid": false, "tickColor": "black", "tickWidth": 1.2, "labelColor": "black", "labelFontSize": 14, "labelPadding": 5, "titleFontSize": 14.5, "titleFontWeight": "normal", "titleColor": "black", "titlePadding": 9},
    "axisX": {"labelPadding": 5, "titlePadding": 5}
  }
}
